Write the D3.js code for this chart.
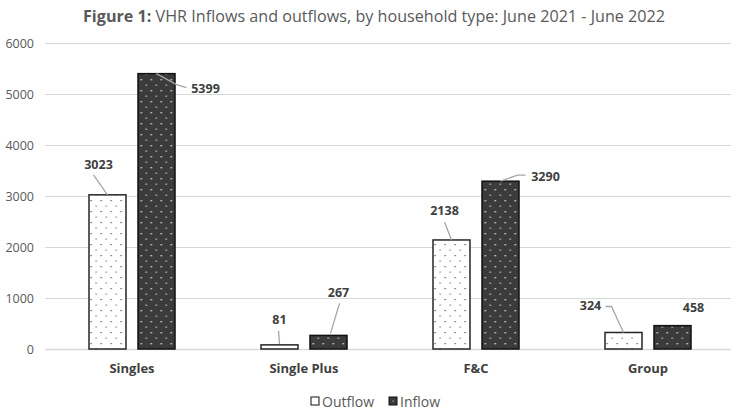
<!DOCTYPE html>
<html>
<head>
<meta charset="utf-8">
<script src="https://cdn.jsdelivr.net/npm/d3@7/dist/d3.min.js"></script>
<style>
  html, body { margin: 0; padding: 0; background: #fff; }
  svg { display: block; font-family: "Open Sans", "Noto Sans", sans-serif; }
</style>
</head>
<body>
<svg id="chart" width="738" height="409"></svg>
<script>
// Household types on the x axis
const categories = ["Singles", "Single Plus", "F&C", "Group"];
// Series names, in drawing order
const seriesNames = ["Outflow", "Inflow"];
// Values per household type
const outflow = [3023, 81, 2138, 324];
const inflow = [5399, 267, 3290, 458];
// Y axis ticks
const yTicks = [0, 1000, 2000, 3000, 4000, 5000, 6000];

const W = 738, H = 409;
const svg = d3.select("#chart");

// Dot patterns for the two series
const defs = svg.append("defs");
const pOut = defs.append("pattern").attr("id", "dotsLight")
  .attr("patternUnits", "userSpaceOnUse").attr("width", 10).attr("height", 11);
pOut.append("rect").attr("width", 10).attr("height", 11).attr("fill", "#ffffff");
pOut.append("rect").attr("x", 2).attr("y", 2).attr("width", 1.2).attr("height", 1.2).attr("fill", "#444");
pOut.append("rect").attr("x", 7).attr("y", 7.5).attr("width", 1.2).attr("height", 1.2).attr("fill", "#666");

const pIn = defs.append("pattern").attr("id", "dotsDark")
  .attr("patternUnits", "userSpaceOnUse").attr("width", 10).attr("height", 11);
pIn.append("rect").attr("width", 10).attr("height", 11).attr("fill", "#3b3b3b");
pIn.append("rect").attr("x", 2).attr("y", 2).attr("width", 1.4).attr("height", 1.4).attr("fill", "#e0e0e0");
pIn.append("rect").attr("x", 7).attr("y", 7.5).attr("width", 1.4).attr("height", 1.4).attr("fill", "#bcbcbc");

const fills = { Outflow: "url(#dotsLight)", Inflow: "url(#dotsDark)" };
const strokes = { Outflow: "#262626", Inflow: "#111111" };

// Scales
const plot = { left: 46, right: 734, top: 43, bottom: 349 };
const y = d3.scaleLinear().domain([0, 6000]).range([plot.bottom, plot.top]);
const x0 = d3.scaleBand().domain(categories).range([plot.left, plot.right]).padding(0);
const groupWidth = 87;
const x1 = d3.scaleBand().domain(seriesNames).range([0, groupWidth]).paddingInner(0.2245);
const groupOffset = (x0.bandwidth() - groupWidth) / 2;

// Title
const title = svg.append("text")
  .attr("x", W / 2 + 5).attr("y", 22)
  .attr("text-anchor", "middle")
  .attr("font-size", 15.5)
  .attr("fill", "#595959");
title.append("tspan").attr("font-weight", "bold").text("Figure 1:");
title.append("tspan").text(" VHR Inflows and outflows, by household type: June 2021 - June 2022");
title.attr("textLength", 582).attr("lengthAdjust", "spacingAndGlyphs");

// Gridlines and y-axis labels
const yAxis = d3.axisLeft(y).tickValues(yTicks)
  .tickSize(-(plot.right - plot.left - 2))
  .tickPadding(11)
  .tickFormat(d3.format("d"));
const gy = svg.append("g").attr("transform", `translate(${plot.left - 1},0)`).call(yAxis);
gy.select(".domain").remove();
gy.selectAll(".tick line").attr("stroke", "#d9d9d9").attr("stroke-width", 1);
gy.selectAll(".tick text").attr("fill", "#595959").attr("font-size", 12.5)
  .attr("font-family", "'Open Sans', sans-serif");

// Baseline
svg.append("line")
  .attr("x1", plot.left - 1).attr("x2", plot.right - 3)
  .attr("y1", y(0) + 0.5).attr("y2", y(0) + 0.5)
  .attr("stroke", "#d9d9d9").attr("stroke-width", 1.5);

// Bars
const rows = categories.map((c, i) => ({ cat: c, values: [
  { key: "Outflow", value: outflow[i] },
  { key: "Inflow", value: inflow[i] }
]}));

const groups = svg.append("g").selectAll("g").data(rows).join("g")
  .attr("transform", d => `translate(${x0(d.cat) + groupOffset},0)`);

groups.selectAll("rect").data(d => d.values).join("rect")
  .attr("x", d => x1(d.key) + 0.5)
  .attr("y", d => y(d.value))
  .attr("width", x1.bandwidth() - 1)
  .attr("height", d => y(0) - y(d.value))
  .attr("fill", d => fills[d.key])
  .attr("stroke", d => strokes[d.key])
  .attr("stroke-width", 1.5);

// Data labels with leader lines; offsets are relative to the bar's top centre
// leader: points (dx, dy) from bar top; label: (dx, dy) of text centre
const labelLayout = {
  Outflow: [
    { label: [-9, -30], leader: [[0, 0], [-14, -20]] },
    { label: [0, -25], leader: [[0, -1], [-1, -14]] },
    { label: [-7, -29], leader: [[0, 0], [-7, -18]] },
    { label: [-33, -27], leader: [[0, 0], [-12, -26], [-18, -26]] }
  ],
  Inflow: [
    { label: [49, 15], leader: [[0, 0], [20, 11], [30, 14]] },
    { label: [10, -43], leader: [[2, -2], [11, -32]] },
    { label: [45, -5], leader: [[0, 0], [17, -6], [25, -6]] },
    { label: [21, -18], leader: null }
  ]
};

rows.forEach((row, i) => {
  row.values.forEach(v => {
    const cx = x0(row.cat) + groupOffset + x1(v.key) + x1.bandwidth() / 2;
    const cy = y(v.value);
    const lay = labelLayout[v.key][i];
    if (lay.leader) {
      svg.append("path")
        .attr("d", d3.line()(lay.leader.map(p => [cx + p[0], cy + p[1]])))
        .attr("fill", "none").attr("stroke", "#a6a6a6").attr("stroke-width", 1.3);
    }
    svg.append("text")
      .attr("x", cx + lay.label[0]).attr("y", cy + lay.label[1])
      .attr("text-anchor", "middle").attr("dominant-baseline", "central")
      .attr("font-size", 12.5).attr("font-weight", "bold").attr("fill", "#404040")
      .text(d3.format("d")(v.value));
  });
});

// Category labels
svg.append("g").selectAll("text").data(categories).join("text")
  .attr("x", d => x0(d) + x0.bandwidth() / 2)
  .attr("y", 368)
  .attr("text-anchor", "middle").attr("dominant-baseline", "central")
  .attr("font-size", 13).attr("font-weight", "bold").attr("fill", "#404040")
  .text(d => d);

// Legend
const legendX = { Outflow: 311, Inflow: 389 };
const lg = svg.append("g").selectAll("g").data(seriesNames).join("g")
  .attr("transform", d => `translate(${legendX[d]},401)`);
lg.append("rect").attr("x", 0).attr("y", -4).attr("width", 8).attr("height", 8)
  .attr("fill", d => d === "Outflow" ? "#fff" : "#3b3b3b")
  .attr("stroke", "#111").attr("stroke-width", 1);
lg.filter(d => d === "Inflow").append("rect")
  .attr("x", 3.5).attr("y", -0.5).attr("width", 1.2).attr("height", 1.2).attr("fill", "#bbb");
lg.append("text").attr("x", 11).attr("y", 0).attr("dominant-baseline", "central")
  .attr("font-size", 14).attr("fill", "#595959").text(d => d);
</script>
</body>
</html>
